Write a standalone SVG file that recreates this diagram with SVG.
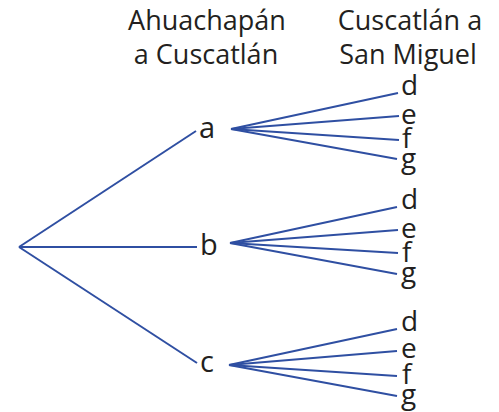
<svg xmlns="http://www.w3.org/2000/svg" width="499" height="412" viewBox="0 0 499 412">
<style>
.t{font-family:"Open Sans","Noto Sans","Liberation Sans",sans-serif;fill:#231f20}
.h{font-size:27px;text-anchor:middle}
.n{font-size:29px}
.l{font-size:28px}
.c line{stroke:#2f4fa2;stroke-width:2;fill:none}
</style>
<rect width="499" height="412" fill="#fff"/>
<g id="headers">
<text class="t h" x="207" y="30">Ahuachapán</text>
<text class="t h" x="206" y="64">a Cuscatlán</text>
<text class="t h" x="410" y="30">Cuscatlán a</text>
<text class="t h" x="408" y="64">San Miguel</text>
</g>
<g id="connectors" class="c">
<line x1="19" y1="247" x2="196" y2="131"/>
<line x1="19" y1="247" x2="197" y2="247"/>
<line x1="19" y1="247" x2="197" y2="363"/>
<line x1="231" y1="129" x2="398" y2="93"/>
<line x1="231" y1="129" x2="399" y2="116"/>
<line x1="231" y1="129" x2="399" y2="140"/>
<line x1="231" y1="129" x2="397" y2="159"/>
<line x1="230" y1="243" x2="397" y2="207"/>
<line x1="230" y1="243" x2="398" y2="230"/>
<line x1="230" y1="243" x2="398" y2="253"/>
<line x1="230" y1="243" x2="397" y2="274"/>
<line x1="229" y1="365" x2="397" y2="329"/>
<line x1="229" y1="365" x2="397" y2="351"/>
<line x1="229" y1="365" x2="397" y2="376"/>
<line x1="229" y1="365" x2="397" y2="396"/>
</g>
<g id="node-a"><text class="t n" x="199" y="138">a</text></g>
<g id="node-b"><text class="t n" x="200" y="255">b</text></g>
<g id="node-c"><text class="t n" x="200" y="372">c</text></g>
<g id="node-a-d"><text class="t l" x="401" y="95">d</text></g>
<g id="node-a-e"><text class="t l" x="401" y="124">e</text></g>
<g id="node-a-f"><text class="t l" x="402" y="148">f</text></g>
<g id="node-a-g"><text class="t l" x="401" y="168">g</text></g>
<g id="node-b-d"><text class="t l" x="401" y="209">d</text></g>
<g id="node-b-e"><text class="t l" x="401" y="238">e</text></g>
<g id="node-b-f"><text class="t l" x="402" y="262">f</text></g>
<g id="node-b-g"><text class="t l" x="401" y="282">g</text></g>
<g id="node-c-d"><text class="t l" x="401" y="331">d</text></g>
<g id="node-c-e"><text class="t l" x="401" y="358">e</text></g>
<g id="node-c-f"><text class="t l" x="402" y="384">f</text></g>
<g id="node-c-g"><text class="t l" x="401" y="404">g</text></g>
</svg>
